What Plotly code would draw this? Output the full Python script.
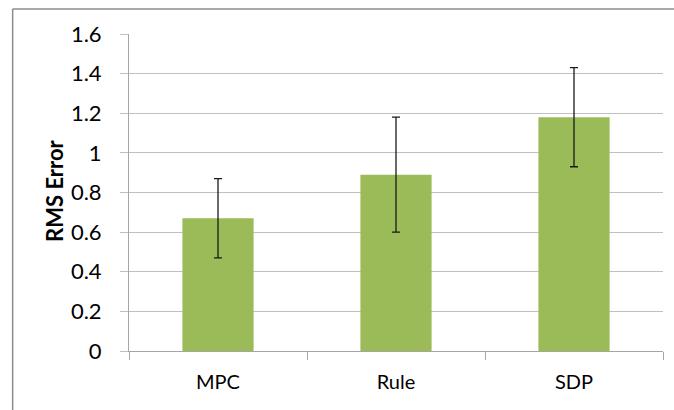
import plotly.graph_objects as go

# RMS error per control strategy, with standard-deviation error bars
methods = ["MPC", "Rule", "SDP"]
rms_error = [0.67, 0.89, 1.18]
rms_spread = [0.20, 0.29, 0.25]
y_ticks = [0, 0.2, 0.4, 0.6, 0.8, 1, 1.2, 1.4, 1.6]
y_tick_text = ["0", "0.2", "0.4", "0.6", "0.8", "1", "1.2", "1.4", "1.6"]

FONT = "Lato"
GRID = "#c0c0c0"
AXIS = "#a6a6a6"

fig = go.Figure(
    go.Bar(
        x=methods,
        y=rms_error,
        marker=dict(color="#9bbb59", line=dict(width=0)),
        width=0.4,
        error_y=dict(
            type="data",
            array=rms_spread,
            visible=True,
            color="#1a1a1a",
            thickness=1.3,
            width=4,
        ),
    )
)

fig.update_layout(
    width=674,
    height=410,
    margin=dict(l=129, r=11, t=34, b=59),
    paper_bgcolor="white",
    plot_bgcolor="white",
    showlegend=False,
    font=dict(family=FONT, size=20, color="#000000"),
    xaxis=dict(
        type="category",
        showline=True,
        linecolor=AXIS,
        linewidth=1,
        ticks="outside",
        tickson="boundaries",
        ticklen=8,
        tickcolor=AXIS,
        tickfont=dict(family=FONT, size=20),
        ticklabelstandoff=13,
        showgrid=False,
    ),
    yaxis=dict(
        range=[0, 1.6],
        tickvals=y_ticks,
        ticktext=y_tick_text,
        showline=True,
        linecolor=AXIS,
        linewidth=1,
        ticks="outside",
        ticklen=8,
        tickcolor=GRID,
        tickfont=dict(family=FONT, size=22),
        ticklabelstandoff=14,
        showgrid=True,
        gridcolor=GRID,
        gridwidth=1,
        zeroline=False,
    ),
    annotations=[
        dict(
            text="<b>RMS Error</b>",
            xref="paper",
            yref="paper",
            x=-0.1386,
            y=0.505,
            showarrow=False,
            textangle=-90,
            font=dict(family=FONT, size=22, color="#000000"),
            xanchor="center",
            yanchor="middle",
        )
    ],
    shapes=[
        # chart frame (left and top edges fall inside the page)
        dict(type="line", xref="paper", yref="paper",
             x0=-0.2179, x1=1.1, y0=1.0789, y1=1.0789,
             line=dict(color="#8c8c8c", width=1.5)),
        dict(type="line", xref="paper", yref="paper",
             x0=-0.2179, x1=-0.2179, y0=-0.2, y1=1.0789,
             line=dict(color="#8c8c8c", width=1.5)),
    ],
)

fig.write_html("out.html")
